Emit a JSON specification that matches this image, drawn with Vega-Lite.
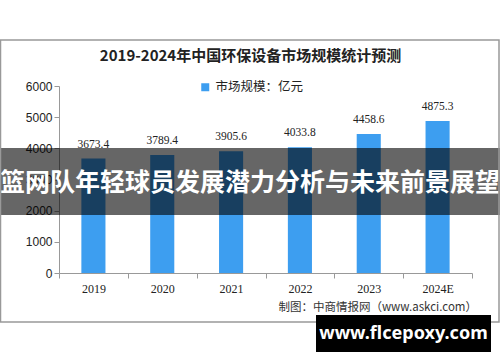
{
  "$schema": "https://vega.github.io/schema/vega-lite/v6.json",
  "width": 413,
  "height": 187,
  "autosize": "none",
  "padding": {"left": 59, "top": 86, "right": 28, "bottom": 89},
  "background": "white",
  "config": {"view": {"stroke": null}},
  "title": {
    "text": "2019-2024年中国环保设备市场规模统计预测",
    "font": "Noto Sans CJK SC",
    "fontSize": 15,
    "fontWeight": "bold",
    "color": "#222222",
    "offset": -25,
    "dx": -15
  },
  "data": {
    "values": [
      {"year": "2019", "value": 3673.4, "series": "市场规模：亿元"},
      {"year": "2020", "value": 3789.4, "series": "市场规模：亿元"},
      {"year": "2021", "value": 3905.6, "series": "市场规模：亿元"},
      {"year": "2022", "value": 4033.8, "series": "市场规模：亿元"},
      {"year": "2023", "value": 4458.6, "series": "市场规模：亿元"},
      {"year": "2024E", "value": 4875.3, "series": "市场规模：亿元"}
    ]
  },
  "layer": [
    {
      "mark": {"type": "bar", "width": {"band": 0.35}},
      "encoding": {
        "x": {
          "field": "year", "type": "nominal", "sort": null,
          "scale": {"paddingInner": 0, "paddingOuter": 0},
          "axis": {
            "title": null, "tickBand": "extent", "labelAngle": 0,
            "labelFont": "Liberation Serif", "labelFontSize": 12, "labelColor": "#222222",
            "tickColor": "#999999", "domainColor": "#999999", "tickSize": 5, "labelPadding": 5
          }
        },
        "y": {
          "field": "value", "type": "quantitative",
          "scale": {"domain": [0, 6000]},
          "axis": {
            "title": null, "values": [0, 1000, 2000, 3000, 4000, 5000, 6000], "grid": false, "format": "d",
            "labelOverlap": false,
            "labelFont": "Liberation Sans", "labelFontSize": 12, "labelColor": "#222222",
            "tickColor": "#999999", "domainColor": "#999999", "tickSize": 5, "labelPadding": 2
          }
        },
        "color": {
          "field": "series", "type": "nominal",
          "scale": {"range": ["#3d9ef0"]},
          "legend": {
            "title": null, "orient": "none", "legendX": 140, "legendY": -5, "padding": 0,
            "symbolType": "square", "symbolSize": 64, "symbolStrokeWidth": 0,
            "labelFont": "Noto Sans CJK SC", "labelFontSize": 12.5, "labelColor": "#222222"
          }
        }
      }
    },
    {
      "mark": {"type": "text", "baseline": "alphabetic", "dy": -11, "font": "Liberation Serif", "fontSize": 11.5, "color": "#222222"},
      "encoding": {
        "x": {
          "field": "year", "type": "nominal", "sort": null,
          "axis": {
            "title": null, "tickBand": "extent", "labelAngle": 0,
            "labelFont": "Liberation Serif", "labelFontSize": 12, "labelColor": "#222222",
            "tickColor": "#999999", "domainColor": "#999999", "tickSize": 5, "labelPadding": 5
          }
        },
        "y": {
          "field": "value", "type": "quantitative",
          "axis": {
            "title": null, "values": [0, 1000, 2000, 3000, 4000, 5000, 6000], "grid": false, "format": "d",
            "labelOverlap": false,
            "labelFont": "Liberation Sans", "labelFontSize": 12, "labelColor": "#222222",
            "tickColor": "#999999", "domainColor": "#999999", "tickSize": 5, "labelPadding": 2
          }
        },
        "text": {"field": "value", "type": "quantitative", "format": ".1f"}
      }
    },
    {
      "data": {"values": [{}]},
      "mark": {"type": "rect", "fill": "#000000", "fillOpacity": 0.6},
      "encoding": {"x": {"value": -59}, "x2": {"value": 441}, "y": {"value": 62}, "y2": {"value": 129}}
    },
    {
      "data": {"values": [{}]},
      "mark": {"type": "text", "text": "篮网队年轻球员发展潜力分析与未来前景展望", "align": "center", "baseline": "middle", "font": "Noto Sans CJK SC", "fontSize": 25, "fontWeight": "bold", "color": "#ffffff"},
      "encoding": {"x": {"value": 191}, "y": {"value": 97}}
    },
    {
      "data": {"values": [{}]},
      "mark": {"type": "rect", "fill": null, "stroke": "#999999", "strokeWidth": 1.5},
      "encoding": {"x": {"value": -58.5}, "x2": {"value": 440}, "y": {"value": -46}, "y2": {"value": 236}}
    },
    {
      "data": {"values": [{}]},
      "mark": {"type": "text", "text": "制图：中商情报网（www.askci.com）", "align": "right", "baseline": "middle", "font": "Noto Sans CJK SC", "fontSize": 11.5, "color": "#333333"},
      "encoding": {"x": {"value": 418}, "y": {"value": 222}}
    },
    {
      "data": {"values": [{}]},
      "mark": {"type": "rect", "fill": "#000000"},
      "encoding": {"x": {"value": 257}, "x2": {"value": 432}, "y": {"value": 229}, "y2": {"value": 266}}
    },
    {
      "data": {"values": [{}]},
      "mark": {"type": "text", "text": "www.flcepoxy.com", "align": "center", "baseline": "middle", "font": "Noto Sans", "fontSize": 18, "fontWeight": "bold", "color": "#ffffff"},
      "encoding": {"x": {"value": 344.5}, "y": {"value": 247.5}}
    }
  ]
}
